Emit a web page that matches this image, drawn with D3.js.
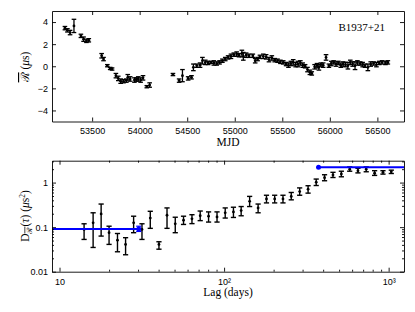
<!DOCTYPE html>
<html>
<head>
<meta charset="utf-8">
<script src="https://cdn.jsdelivr.net/npm/d3@7"></script>
<style>
    body { margin: 0; background: #fff; }
    svg { font-family: "Liberation Serif", serif; }
    .axis text { font-size: 9px; fill: #000; }
    .axis path, .axis line { stroke: #000; stroke-width: 0.9; }
</style>
</head>
<body>
<div id="chart"></div>
<script>
// Timing residual series (top panel)
const mjd = [
    53214, 53240, 53268, 53309, 53382, 53410, 53440, 53465,
    53600, 53620, 53660, 53690, 53710, 53750, 53775, 53800, 53830, 53860, 53875, 53900,
    53945, 53965, 53985, 54010, 54035, 54075, 54105,
    54350, 54415, 54450, 54510, 54545, 54565, 54600, 54635, 54660, 54690, 54720, 54750,
    54780, 54810, 54840, 54870, 54900, 54930, 54960, 54990, 55020, 55045, 55075, 55090,
    55120, 55150, 55190, 55215, 55240, 55265, 55300, 55330, 55360, 55390, 55420, 55450,
    55480, 55510, 55540, 55565, 55590, 55615, 55640, 55665, 55690, 55715, 55740, 55765,
    55790, 55810, 55840, 55865, 55885, 55905, 55930, 55960, 55990, 56015, 56040, 56065,
    56090, 56115, 56140, 56165, 56190, 56215, 56240, 56265, 56290, 56320, 56345, 56370,
    56400, 56430, 56460, 56490, 56520, 56550, 56585, 56610
];
const resid = [
    3.45, 3.25, 3.05, 3.65, 2.75, 2.45, 2.3, 2.35,
    0.95, 0.65, 0.05, -0.2, -0.25, -0.85, -1.1, -1.35, -1.35, -1.3, -1.0, -1.15,
    -1.25, -1.2, -1.15, -1.25, -1.05, -1.85, -1.7,
    -0.75, -1.3, -0.85, -1.1, -1.0, -0.1, 0.05, 0.1, 0.5, 0.35, 0.3, 0.35,
    0.3, 0.25, 0.35, 0.5, 0.65, 0.8, 0.9, 1.05, 1.1, 1.0, 1.15, 0.9,
    1.0, 0.95, 0.95, 0.5, 0.65, 0.85, 0.9, 0.85, 0.6, 0.75, 0.55, 0.5,
    0.4, 0.35, 0.2, 0.1, 0.25, 0.35, 0.15, 0.2, 0.3, 0.1, 0.0, -0.3,
    -0.55, -0.65, -0.05, 0.05, -0.1, 0.15, 0.1, 0.8, 0.05, 0.25, 0.35, 0.2,
    0.3, 0.1, 0.2, 0.15, 0.05, 0.35, 0.2, 0.05, 0.3, 0.25, 0.15, 0.05,
    -0.1, 0.2, 0.25, 0.15, 0.3, 0.35, 0.3, 0.35
];
const residErr = [
    0.15, 0.15, 0.2, 0.6, 0.15, 0.2, 0.15, 0.15,
    0.2, 0.15, 0.1, 0.1, 0.1, 0.2, 0.2, 0.2, 0.15, 0.15, 0.25, 0.2,
    0.2, 0.15, 0.2, 0.2, 0.2, 0.1, 0.2,
    0.1, 0.15, 0.55, 0.15, 0.15, 0.3, 0.15, 0.2, 0.3, 0.2, 0.15, 0.1,
    0.2, 0.15, 0.15, 0.15, 0.15, 0.15, 0.2, 0.15, 0.2, 0.15, 0.3, 0.35,
    0.2, 0.15, 0.15, 0.2, 0.15, 0.15, 0.2, 0.2, 0.2, 0.2, 0.15, 0.15,
    0.15, 0.15, 0.15, 0.2, 0.2, 0.25, 0.2, 0.25, 0.2, 0.2, 0.15, 0.2,
    0.2, 0.15, 0.2, 0.2, 0.25, 0.15, 0.2, 0.25, 0.15, 0.2, 0.15, 0.2,
    0.15, 0.2, 0.2, 0.2, 0.3, 0.2, 0.2, 0.35, 0.2, 0.15, 0.2, 0.15,
    0.3, 0.2, 0.15, 0.2, 0.15, 0.15, 0.15, 0.15
];
const mjdTicks = [53500, 54000, 54500, 55000, 55500, 56000, 56500];
const residTicks = [-4, -2, 0, 2, 4];

// Structure function (bottom panel)
const lag = [
    14.1, 16.0, 17.9, 20.0, 22.5, 25.2, 28.2, 31.7, 35.6, 40.2, 45.0, 50.5, 56.7,
    63.8, 71.6, 80.5, 90.6, 101.6, 114, 127, 143, 161, 181, 203, 228, 256,
    288, 324, 363, 408, 459, 516, 580, 651, 731, 822, 924, 1038
];
const sf = [
    0.089, 0.125, 0.198, 0.075, 0.051, 0.041, 0.125, 0.089, 0.16, 0.041, 0.185, 0.119, 0.143,
    0.154, 0.18, 0.176, 0.17, 0.21, 0.22, 0.235, 0.38, 0.27, 0.43, 0.43, 0.43, 0.49,
    0.63, 0.71, 1.02, 1.29, 1.48, 1.56, 2.0, 1.85, 2.0, 1.62, 1.7, 1.75
];
const sfLow = [
    0.053, 0.035, 0.063, 0.041, 0.028, 0.024, 0.075, 0.053, 0.094, 0.032, 0.094, 0.075, 0.115,
    0.12, 0.14, 0.13, 0.13, 0.16, 0.165, 0.18, 0.29, 0.21, 0.35, 0.35, 0.35, 0.41,
    0.52, 0.58, 0.86, 1.1, 1.3, 1.35, 1.8, 1.65, 1.75, 1.45, 1.55, 1.6
];
const sfHigh = [
    0.119, 0.21, 0.33, 0.105, 0.072, 0.058, 0.176, 0.119, 0.227, 0.047, 0.27, 0.167, 0.176,
    0.19, 0.23, 0.22, 0.22, 0.27, 0.28, 0.29, 0.49, 0.33, 0.52, 0.52, 0.52, 0.6,
    0.76, 0.85, 1.2, 1.5, 1.7, 1.8, 2.25, 2.1, 2.25, 1.85, 1.85, 1.9
];
// white-noise floor and saturation levels (blue)
const levelLag = [30.3, 375];
const levelValue = [0.091, 2.2];
const levelLow = [0.08, 2.2];
const levelHigh = [0.105, 2.2];
const lagTicks = [10, 100, 1000];
const sfTicks = [0.01, 0.1, 1];

const width = 415, height = 312;
const left = 52, right = 404;

const svg = d3.select('#chart')
    .append('svg')
    .attr('width', width)
    .attr('height', height);

// inward ticks on every side, labels only bottom/left
function frame(g, x, y, xTicks, yTicks, xFmt, yFmt, minorX, minorY) {
    const [y0, y1] = y.range();
    const [x0, x1] = x.range();

    const axes = [
        [d3.axisBottom(x).tickValues(xTicks).tickFormat(xFmt).tickPadding(6.5), `translate(0,${y0})`],
        [d3.axisTop(x).tickValues(xTicks).tickFormat(''), `translate(0,${y1})`],
        [d3.axisLeft(y).tickValues(yTicks).tickFormat(yFmt).tickPadding(4), `translate(${x0},0)`],
        [d3.axisRight(y).tickValues(yTicks).tickFormat(''), `translate(${x1},0)`]
    ];
    axes.forEach(([ax, tr]) => {
        g.append('g')
            .attr('class', 'axis')
            .attr('transform', tr)
            .call(ax.tickSize(-4).tickSizeOuter(0));
    });

    if (minorX) {
        [[d3.axisBottom, y0], [d3.axisTop, y1]].forEach(([fn, pos]) => {
            g.append('g').attr('class', 'axis')
                .attr('transform', `translate(0,${pos})`)
                .call(fn(x).tickValues(minorX).tickFormat('').tickSize(-2).tickSizeOuter(0))
                .call(s => s.select('.domain').remove());
        });
    }
    if (minorY) {
        [[d3.axisLeft, x0], [d3.axisRight, x1]].forEach(([fn, pos]) => {
            g.append('g').attr('class', 'axis')
                .attr('transform', `translate(${pos},0)`)
                .call(fn(y).tickValues(minorY).tickFormat('').tickSize(-2).tickSizeOuter(0))
                .call(s => s.select('.domain').remove());
        });
    }
}

function minorLog(domain) {
    const out = [];
    for (let e = -3; e <= 4; e++) {
        for (let m = 2; m <= 9; m++) {
            const v = m * Math.pow(10, e);
            if (v > domain[0] && v < domain[1]) out.push(v);
        }
    }
    return out;
}

// ---------- Top panel ----------
const xTop = d3.scaleLinear().domain([53078, 56780]).range([left, right]);
const yTop = d3.scaleLinear().domain([-5, 5]).range([121.5, 11]);

const topG = svg.append('g');
const topData = mjd.map((m, i) => ({ m, v: resid[i], e: residErr[i] }));

const bars = topG.selectAll('g.eb')
    .data(topData)
    .join('g')
    .attr('class', 'eb')
    .attr('stroke', '#000')
    .attr('stroke-width', 1.3);

bars.append('line')
    .attr('x1', d => xTop(d.m)).attr('x2', d => xTop(d.m))
    .attr('y1', d => yTop(d.v - d.e)).attr('y2', d => yTop(d.v + d.e));
[-1, 1].forEach(s => {
    bars.append('line')
        .attr('x1', d => xTop(d.m) - 2.3).attr('x2', d => xTop(d.m) + 2.3)
        .attr('y1', d => yTop(d.v + s * d.e)).attr('y2', d => yTop(d.v + s * d.e));
});
topG.selectAll('circle')
    .data(topData)
    .join('circle')
    .attr('cx', d => xTop(d.m))
    .attr('cy', d => yTop(d.v))
    .attr('r', 1.4)
    .attr('fill', '#000');

frame(topG, xTop, yTop, mjdTicks, residTicks, d3.format('d'), d3.format('d'));

topG.append('text')
    .attr('x', 385).attr('y', 30.5)
    .attr('text-anchor', 'end')
    .style('font-size', '11px')
    .text('B1937+21');

topG.append('text')
    .attr('x', 228).attr('y', 145.5)
    .attr('text-anchor', 'middle')
    .style('font-size', '11.5px')
    .text('MJD');

const yLabTop = topG.append('text')
    .attr('transform', 'translate(29,67) rotate(-90)')
    .attr('text-anchor', 'middle')
    .style('font-size', '11.5px');
yLabTop.append('tspan').style('text-decoration', 'overline').text('ℛ');
yLabTop.append('tspan').text(' (');
yLabTop.append('tspan').style('font-style', 'italic').text('μ');
yLabTop.append('tspan').text('s)');

// ---------- Bottom panel ----------
const xBot = d3.scaleLog().domain([9, 1240]).range([left, right]);
const yBot = d3.scaleLog().domain([0.01, 3.1]).range([271.7, 160.7]);

const botG = svg.append('g');
const botData = lag.map((l, i) => ({ l, v: sf[i], lo: sfLow[i], hi: sfHigh[i] }));

const sfBars = botG.selectAll('g.eb')
    .data(botData)
    .join('g')
    .attr('class', 'eb')
    .attr('stroke', '#000')
    .attr('stroke-width', 1.4);
sfBars.append('line')
    .attr('x1', d => xBot(d.l)).attr('x2', d => xBot(d.l))
    .attr('y1', d => yBot(d.lo)).attr('y2', d => yBot(d.hi));
['lo', 'hi'].forEach(k => {
    sfBars.append('line')
        .attr('x1', d => xBot(d.l) - 2.6).attr('x2', d => xBot(d.l) + 2.6)
        .attr('y1', d => yBot(d[k])).attr('y2', d => yBot(d[k]));
});
botG.selectAll('circle.pt')
    .data(botData)
    .join('circle')
    .attr('class', 'pt')
    .attr('cx', d => xBot(d.l))
    .attr('cy', d => yBot(d.v))
    .attr('r', 1.4)
    .attr('fill', '#000');

// blue levels
const levels = levelLag.map((l, i) => ({
    l, v: levelValue[i], lo: levelLow[i], hi: levelHigh[i],
    from: i === 0 ? xBot.domain()[0] : l,
    to: i === 0 ? l : xBot.domain()[1]
}));
botG.selectAll('line.level')
    .data(levels)
    .join('line')
    .attr('class', 'level')
    .attr('x1', d => xBot(d.from)).attr('x2', d => xBot(d.to))
    .attr('y1', d => yBot(d.v)).attr('y2', d => yBot(d.v))
    .attr('stroke', '#0000ff')
    .attr('stroke-width', 2);
const lvBars = botG.selectAll('g.lv')
    .data(levels.filter(d => d.hi > d.lo))
    .join('g')
    .attr('class', 'lv')
    .attr('stroke', '#0000ff')
    .attr('stroke-width', 1.2);
lvBars.append('line')
    .attr('x1', d => xBot(d.l)).attr('x2', d => xBot(d.l))
    .attr('y1', d => yBot(d.lo)).attr('y2', d => yBot(d.hi));
['lo', 'hi'].forEach(k => {
    lvBars.append('line')
        .attr('x1', d => xBot(d.l) - 2.6).attr('x2', d => xBot(d.l) + 2.6)
        .attr('y1', d => yBot(d[k])).attr('y2', d => yBot(d[k]));
});
botG.selectAll('circle.lvpt')
    .data(levels)
    .join('circle')
    .attr('class', 'lvpt')
    .attr('cx', d => xBot(d.l))
    .attr('cy', d => yBot(d.v))
    .attr('r', 2.5)
    .attr('fill', '#0000ff');

const supers = { 1: '', 2: '²', 3: '³' };
frame(botG, xBot, yBot, lagTicks, sfTicks,
    d => '10' + supers[Math.round(Math.log10(d))],
    d => String(d),
    minorLog(xBot.domain()), minorLog(yBot.domain()));

botG.append('text')
    .attr('x', 228).attr('y', 295.5)
    .attr('text-anchor', 'middle')
    .style('font-size', '11.5px')
    .text('Lag (days)');

const yLabBot = botG.append('text')
    .attr('transform', 'translate(29,216) rotate(-90)')
    .attr('text-anchor', 'middle')
    .style('font-size', '11.5px');
yLabBot.append('tspan').text('D');
yLabBot.append('tspan').attr('dy', 2.5).style('font-size', '7.5px')
    .style('text-decoration', 'overline').text('ℛ');
yLabBot.append('tspan').attr('dy', -2.5).text('(');
yLabBot.append('tspan').style('font-style', 'italic').text('τ');
yLabBot.append('tspan').text(') (');
yLabBot.append('tspan').style('font-style', 'italic').text('μ');
yLabBot.append('tspan').text('s');
yLabBot.append('tspan').attr('dy', -4).style('font-size', '7.5px').text('2');
yLabBot.append('tspan').attr('dy', 4).text(')');
</script>
</body>
</html>
